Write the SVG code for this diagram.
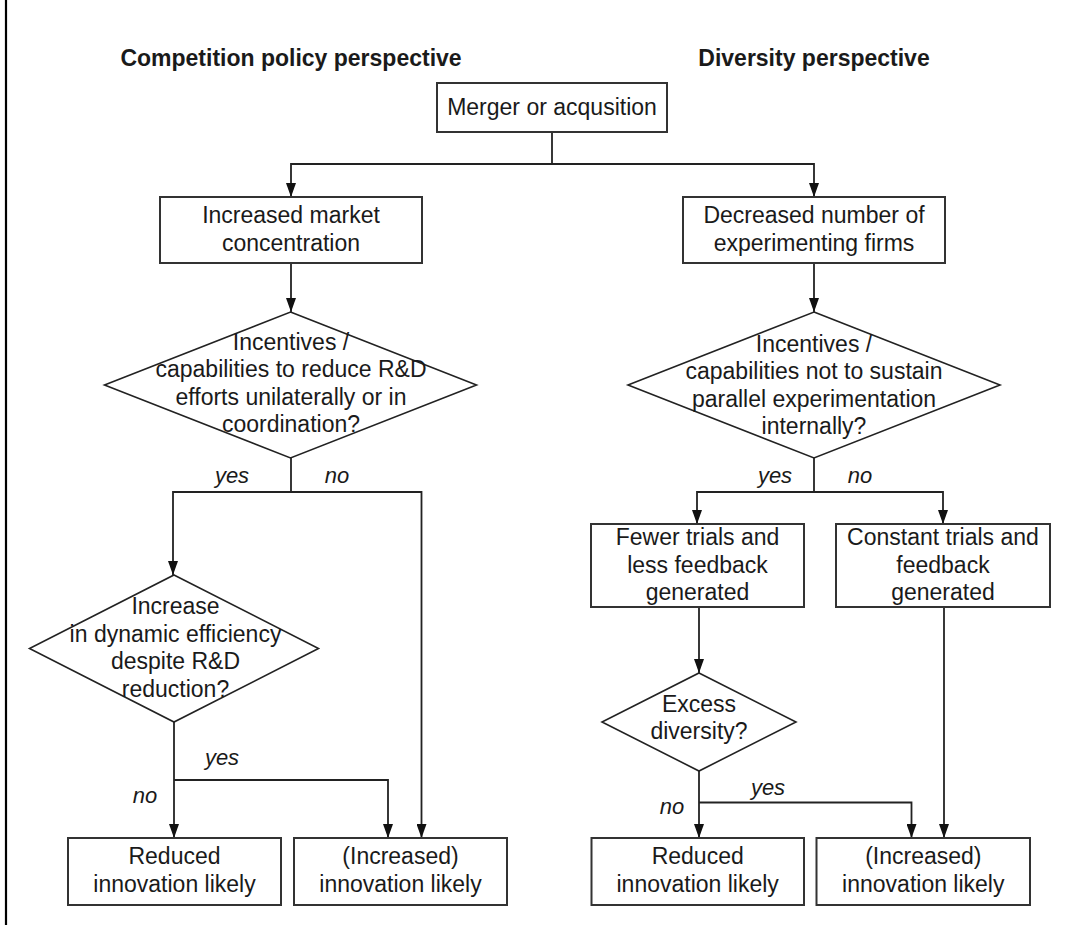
<svg xmlns="http://www.w3.org/2000/svg" width="1078" height="925" viewBox="0 0 1078 925">
<style>
text{font-family:"Liberation Sans",Arial,sans-serif;fill:#1a1a1a;text-anchor:middle}
.t{font-size:23px}
.h{font-size:23px;font-weight:bold}
.l{font-size:22px;font-style:italic}
.box{fill:#fff;stroke:#333;stroke-width:2}
.dia{fill:#fff;stroke:#222;stroke-width:1.6}
.c{fill:none;stroke:#222;stroke-width:1.8}
</style>
<defs>
<marker id="ah" viewBox="0 0 14 10" markerWidth="14" markerHeight="10" refX="14" refY="5" orient="auto" markerUnits="userSpaceOnUse">
<path d="M0,0 L14,5 L0,10 z" fill="#111"/>
</marker>
</defs>
<rect width="1078" height="925" fill="#fff"/>
<line x1="6" y1="0" x2="6" y2="925" stroke="#000" stroke-width="2.2"/>

<g id="titles">
<text class="h" x="291" y="66">Competition policy perspective</text>
<text class="h" x="814" y="66">Diversity perspective</text>
</g>

<g id="connectors">
<path class="c" d="M552,132 V164"/>
<path class="c" d="M552,164 H291 V197" marker-end="url(#ah)"/>
<path class="c" d="M552,164 H814 V197" marker-end="url(#ah)"/>
<path class="c" d="M291,263 V312" marker-end="url(#ah)"/>
<path class="c" d="M814,263 V312" marker-end="url(#ah)"/>
<path class="c" d="M291,458 V492"/>
<path class="c" d="M291,492 H173 V575" marker-end="url(#ah)"/>
<path class="c" d="M291,492 H421.5 V838" marker-end="url(#ah)"/>
<path class="c" d="M174,722 V838" marker-end="url(#ah)"/>
<path class="c" d="M174,780 H388 V838" marker-end="url(#ah)"/>
<path class="c" d="M814,458 V492"/>
<path class="c" d="M814,492 H697 V524" marker-end="url(#ah)"/>
<path class="c" d="M814,492 H943 V524" marker-end="url(#ah)"/>
<path class="c" d="M699,607 V673" marker-end="url(#ah)"/>
<path class="c" d="M944,607 V838" marker-end="url(#ah)"/>
<path class="c" d="M699,771 V838" marker-end="url(#ah)"/>
<path class="c" d="M699,802.5 H911.5 V838" marker-end="url(#ah)"/>
<text class="l" x="232" y="483">yes</text>
<text class="l" x="337" y="483">no</text>
<text class="l" x="222" y="765">yes</text>
<text class="l" x="145" y="803">no</text>
<text class="l" x="775" y="483">yes</text>
<text class="l" x="860" y="483">no</text>
<text class="l" x="768" y="795">yes</text>
<text class="l" x="672" y="813.5">no</text>
</g>

<g id="merger">
<rect class="box" x="437" y="83" width="230" height="49"/>
<text class="t" x="552" y="115">Merger or acqusition</text>
</g>

<g id="market-concentration">
<rect class="box" x="160" y="197" width="262" height="66"/>
<text class="t" x="291" y="222.7">Increased market</text>
<text class="t" x="291" y="250.7">concentration</text>
</g>

<g id="fewer-firms">
<rect class="box" x="683" y="197" width="262" height="66"/>
<text class="t" x="814" y="222.7">Decreased number of</text>
<text class="t" x="814" y="250.7">experimenting firms</text>
</g>

<g id="reduce-rd">
<polygon class="dia" points="290.5,312 476.5,385 290.5,458 104.5,385"/>
<text class="t" x="291" y="349.5">Incentives /</text>
<text class="t" x="291" y="377">capabilities to reduce R&amp;D</text>
<text class="t" x="291" y="404.5">efforts unilaterally or in</text>
<text class="t" x="291" y="432">coordination?</text>
</g>

<g id="not-sustain">
<polygon class="dia" points="814,312 1000,385 814,458 628,385"/>
<text class="t" x="814" y="351.5">Incentives /</text>
<text class="t" x="814" y="379">capabilities not to sustain</text>
<text class="t" x="814" y="406.5">parallel experimentation</text>
<text class="t" x="814" y="434">internally?</text>
</g>

<g id="dynamic-efficiency">
<polygon class="dia" points="174,575 318.5,648.5 174,722 29.5,648.5"/>
<text class="t" x="175.5" y="614">Increase</text>
<text class="t" x="175.5" y="641.5">in dynamic efficiency</text>
<text class="t" x="175.5" y="669">despite R&amp;D</text>
<text class="t" x="175.5" y="696.5">reduction?</text>
</g>

<g id="fewer-trials">
<rect class="box" x="591" y="524" width="213" height="83"/>
<text class="t" x="697.5" y="545">Fewer trials and</text>
<text class="t" x="697.5" y="572.5">less feedback</text>
<text class="t" x="697.5" y="600">generated</text>
</g>

<g id="constant-trials">
<rect class="box" x="836" y="524" width="214" height="83"/>
<text class="t" x="943" y="545">Constant trials and</text>
<text class="t" x="943" y="572.5">feedback</text>
<text class="t" x="943" y="600">generated</text>
</g>

<g id="excess-diversity">
<polygon class="dia" points="699,673 796,722 699,771 602,722"/>
<text class="t" x="699" y="712.3">Excess</text>
<text class="t" x="699" y="739.3">diversity?</text>
</g>

<g id="reduced-left">
<rect class="box" x="68" y="838" width="213" height="67"/>
<text class="t" x="174.5" y="864">Reduced</text>
<text class="t" x="174.5" y="891.7">innovation likely</text>
</g>

<g id="increased-left">
<rect class="box" x="294" y="838" width="213" height="67"/>
<text class="t" x="400.5" y="864">(Increased)</text>
<text class="t" x="400.5" y="891.7">innovation likely</text>
</g>

<g id="reduced-right">
<rect class="box" x="591.5" y="838" width="212.5" height="67"/>
<text class="t" x="697.7" y="864">Reduced</text>
<text class="t" x="697.7" y="891.7">innovation likely</text>
</g>

<g id="increased-right">
<rect class="box" x="816.5" y="838" width="213.5" height="67"/>
<text class="t" x="923.3" y="864">(Increased)</text>
<text class="t" x="923.3" y="891.7">innovation likely</text>
</g>
</svg>
